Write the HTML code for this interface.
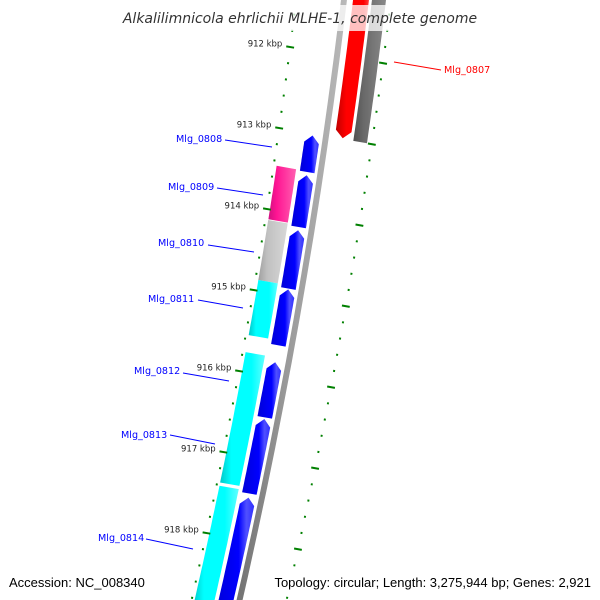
<!DOCTYPE html>
<html><head><meta charset="utf-8"><style>
html,body{margin:0;padding:0;background:#fff;overflow:hidden;}
svg{display:block;font-family:"DejaVu Sans","Liberation Sans",sans-serif;}
</style></head><body>
<svg id="chart" width="600" height="600" viewBox="0 0 600 600" xmlns="http://www.w3.org/2000/svg">
<defs>
<linearGradient id="gBlue" x1="0" x2="1" y1="0" y2="0"><stop offset="0" stop-color="#0000d8"/><stop offset="0.6" stop-color="#0000ff"/><stop offset="0.8" stop-color="#5050ff"/><stop offset="1" stop-color="#3030ff"/></linearGradient>
<linearGradient id="gCyan" x1="0" x2="1" y1="0" y2="0"><stop offset="0" stop-color="#00c8c8"/><stop offset="0.25" stop-color="#00ffff"/><stop offset="0.7" stop-color="#00ffff"/><stop offset="1" stop-color="#60ffff"/></linearGradient>
<linearGradient id="gPink" x1="0" x2="1" y1="0" y2="0"><stop offset="0" stop-color="#d01080"/><stop offset="0.3" stop-color="#ff1493"/><stop offset="1" stop-color="#ff60b0"/></linearGradient>
<linearGradient id="gLGray" x1="0" x2="1" y1="0" y2="0"><stop offset="0" stop-color="#a0a0a0"/><stop offset="0.3" stop-color="#c0c0c0"/><stop offset="1" stop-color="#d8d8d8"/></linearGradient>
<linearGradient id="gRed" x1="0" x2="1" y1="0" y2="0"><stop offset="0" stop-color="#c00000"/><stop offset="0.3" stop-color="#ff0000"/><stop offset="0.8" stop-color="#ff0000"/><stop offset="1" stop-color="#ff5050"/></linearGradient>
<linearGradient id="gDGray" x1="0" x2="1" y1="0" y2="0"><stop offset="0" stop-color="#505050"/><stop offset="0.3" stop-color="#696969"/><stop offset="1" stop-color="#8a8a8a"/></linearGradient>
<linearGradient id="gBack" x1="0" x2="1" y1="0" y2="0"><stop offset="0" stop-color="#666"/><stop offset="0.5" stop-color="#999"/><stop offset="1" stop-color="#bbb"/></linearGradient>
</defs>
<g id="track"></g>
<g id="labels"></g>
<rect x="118" y="5" width="364" height="26" fill="#fff" fill-opacity="0.75"/>
<text x="300" y="23" text-anchor="middle" font-size="14" font-style="italic" fill="#333">Alkalilimnicola ehrlichii MLHE-1, complete genome</text>
<text x="9" y="587" font-size="13" fill="#000" font-family="Liberation Sans, sans-serif">Accession: NC_008340</text>
<rect x="258" y="572" width="338" height="22" fill="#fff"/>
<text x="591" y="587" text-anchor="end" font-size="13" fill="#000" font-family="Liberation Sans, sans-serif">Topology: circular; Length: 3,275,944 bp; Genes: 2,921</text>
</svg>
<script>
// data (positions in kbp)
const geneNames = ["Mlg_0807","Mlg_0808","Mlg_0809","Mlg_0810","Mlg_0811","Mlg_0812","Mlg_0813","Mlg_0814"];
const geneStarts = [911.10, 913.02, 913.51, 914.19, 914.92, 915.82, 916.52, 917.49];
const geneEnds   = [912.99, 913.47, 914.15, 914.91, 915.61, 916.50, 917.44, 918.95];
const geneStrand = [1, -1, -1, -1, -1, -1, -1, -1];
const featStarts = [911.10, 913.46, 914.13, 914.87, 915.76, 917.41];
const featEnds   = [913.00, 914.12, 914.87, 915.55, 917.37, 918.95];
const featKinds  = ["dgray","pink","lgray","cyan","cyan","cyan"];
const tickLabels = ["912 kbp","913 kbp","914 kbp","915 kbp","916 kbp","917 kbp","918 kbp"];
const tickValues = [912, 913, 914, 915, 916, 917, 918];
const labelTexts = ["Mlg_0807","Mlg_0808","Mlg_0809","Mlg_0810","Mlg_0811","Mlg_0812","Mlg_0813","Mlg_0814"];

const NS="http://www.w3.org/2000/svg";
const track=document.getElementById('track'), labels=document.getElementById('labels');
function bx(y){return 343-0.12*y-0.00009*y*y;}
function Y(kb){return 55+(kb-912)*81;}
function P(kb,o){const y=Y(kb)+o*0.17;return [bx(y)+o,y];}
function poly(pts,fill,name){const p=document.createElementNS(NS,'polygon');p.setAttribute('points',pts.map(q=>q[0].toFixed(1)+','+q[1].toFixed(1)).join(' '));p.setAttribute('fill',fill);


track.appendChild(p);return p;}
function band(k1,k2,o1,o2,fill,name,arrow){
  const pts=[];const steps=16;
  const headTop = arrow===-1, headBot = arrow===1;
  const h=0.09;
  const a1=headTop?k1+h:k1, a2=headBot?k2-h:k2;
  for(let i=0;i<=steps;i++){pts.push(P(a1+(a2-a1)*i/steps,o1));}
  if(headBot){pts.push(P(k2,(o1+o2)/2));}
  for(let i=steps;i>=0;i--){pts.push(P(a1+(a2-a1)*i/steps,o2));}
  if(headTop){pts.push(P(k1,(o1+o2)/2));}
  return poly(pts,fill,name);
}
// backbone
band(911.0,919.5,-2,4,"url(#gBack)","backbone",0);
const featFill={dgray:"url(#gDGray)",pink:"url(#gPink)",lgray:"url(#gLGray)",cyan:"url(#gCyan)"};
featStarts.forEach((s,i)=>{const k=featKinds[i];
  if(k==="dgray") band(s,featEnds[i],29,43,featFill[k],"feature-"+k,0);
  else band(s,featEnds[i],-44,-24,featFill[k],"feature-"+k+"-"+i,0);
});
geneStarts.forEach((s,i)=>{
  if(geneStrand[i]===1) band(s,geneEnds[i],10,26,"url(#gRed)","gene-"+geneNames[i].toLowerCase(),1);
  else band(s,geneEnds[i],-20,-5,"url(#gBlue)","gene-"+geneNames[i].toLowerCase(),-1);
});
function tick(kb,o,len,w,name){const a=P(kb,o-len/2),b=P(kb,o+len/2);const l=document.createElementNS(NS,'line');
l.setAttribute('x1',a[0]);l.setAttribute('y1',a[1]);l.setAttribute('x2',b[0]);l.setAttribute('y2',b[1]);
l.setAttribute('stroke','#008000');l.setAttribute('stroke-width',w);


track.appendChild(l);}
for(let k=911.0;k<=919.01;k+=0.2){const kk=Math.round(k*10)/10;const major=Math.abs(kk-Math.round(kk))<0.01;
  tick(kk,-47,major?8:2,2,major?"major-tick-inner":"minor-tick-inner");
  tick(kk,48,major?8:2,2,major?"major-tick-outer":"minor-tick-outer");
}
tickValues.forEach((v,i)=>{const p=P(v,-55);const t=document.createElementNS(NS,'text');
t.setAttribute('x',p[0]);t.setAttribute('y',p[1]+1);t.setAttribute('text-anchor','end');t.setAttribute('font-size','8.5');t.setAttribute('fill','#222');


t.textContent=tickLabels[i];labels.appendChild(t);});
const labX=[444,176,168,158,148,134,121,98], labY=[73,142,190,246,302,374,438,541];
const lineFrom=[[441,70],[225,140],[217,188],[208,245],[198,300],[183,373],[170,435],[146,539]];
const lineTo=[[394,62],[272,147],[263,195],[254,252],[243,308],[229,381],[215,444],[193,549]];
labelTexts.forEach((s,i)=>{const red=geneStrand[i]===1;const c=red?"#f00":"#00f";
const l=document.createElementNS(NS,'line');l.setAttribute('x1',lineFrom[i][0]);l.setAttribute('y1',lineFrom[i][1]);l.setAttribute('x2',lineTo[i][0]);l.setAttribute('y2',lineTo[i][1]);l.setAttribute('stroke',c);l.setAttribute('stroke-width','1');


labels.appendChild(l);
const t=document.createElementNS(NS,'text');t.setAttribute('x',labX[i]);t.setAttribute('y',labY[i]);t.setAttribute('font-size','9.6');t.setAttribute('fill',c);t.textContent=s;


labels.appendChild(t);});
</script>
</body></html>
